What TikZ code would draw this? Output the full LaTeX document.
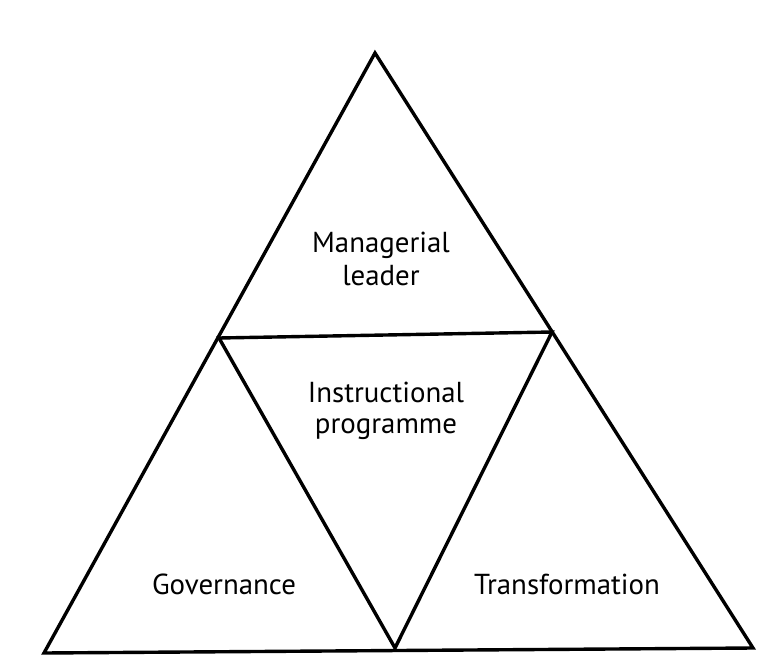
\documentclass[tikz,border=0pt]{standalone}
\usepackage{fontspec}
\setmainfont{PT Sans}
\begin{document}
\begin{tikzpicture}[x=1bp,y=-1bp,
  edge/.style={line width=3.4bp,line join=miter,line cap=round},
  lbl/.style={font=\fontsize{29}{33}\selectfont,align=center,inner sep=0pt}]
\useasboundingbox (0,0) rectangle (774,662);
\coordinate (A) at (375,53);
\coordinate (L) at (44,653);
\coordinate (R) at (753,648);
\coordinate (ML) at (219,338);
\coordinate (MR) at (552,332);
\coordinate (MB) at (395,648);
\draw[edge] (A) -- (L) -- (R) -- cycle;
\draw[edge] (ML) -- (MR) -- (MB) -- cycle;
\node[lbl,anchor=base] (mgr) at (381,252) {Managerial};
\node[lbl,anchor=base] (mgr2) at (381,285) {leader};
\node[lbl,anchor=base] (ins) at (386,402) {Instructional};
\node[lbl,anchor=base] (ins2) at (386,433) {programme};
\node[lbl,anchor=base] (gov) at (224,594) {Governance};
\node[lbl,anchor=base] (tra) at (567,594) {Transformation};
\end{tikzpicture}
\end{document}
